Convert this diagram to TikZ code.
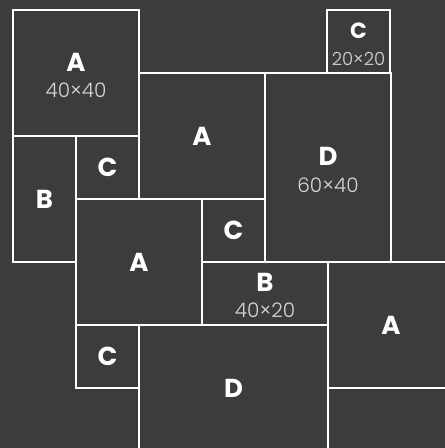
\documentclass[tikz,border=0pt]{standalone}
\usepackage{fontspec}
\setmainfont{Poppins}
\newfontfamily\dimfont{Poppins}[UprightFont=* Light]
\definecolor{bg}{HTML}{3C3C3C}
\definecolor{dimc}{HTML}{D6D6D6}
\tikzset{
  cell/.style={draw=white, line width=2pt, inner sep=0pt, outer sep=0pt},
  letter/.style={text=white, font=\bfseries\fontsize{26}{26}\selectfont, inner sep=0pt},
  smallletter/.style={text=white, font=\bfseries\fontsize{22}{22}\selectfont, inner sep=0pt},
  dims/.style={text=dimc, font=\dimfont\fontsize{20}{20}\selectfont, inner sep=0pt},
  smalldims/.style={text=dimc, font=\dimfont\fontsize{18}{18}\selectfont, inner sep=0pt},
}
\begin{document}
\begin{tikzpicture}[x=1pt,y=-1pt]
\useasboundingbox (0,0) rectangle (445,448);
\fill[bg] (0,0) rectangle (445,448);
\begin{scope}
\clip (0,0) rectangle (445,448);
\node[cell, minimum width=126pt, minimum height=126pt] (A1) at (76,73) {};
\node[cell, minimum width=63pt, minimum height=63pt] (C1) at (358.5,41.5) {};
\node[cell, minimum width=126pt, minimum height=126pt] (A2) at (202,136) {};
\node[cell, minimum width=126pt, minimum height=189pt] (D1) at (328,167.5) {};
\node[cell, minimum width=63pt, minimum height=126pt] (B1) at (44.5,199) {};
\node[cell, minimum width=63pt, minimum height=63pt] (C2) at (107.5,167.5) {};
\node[cell, minimum width=126pt, minimum height=126pt] (A3) at (139,262) {};
\node[cell, minimum width=63pt, minimum height=63pt] (C3) at (233.5,230.5) {};
\node[cell, minimum width=126pt, minimum height=63pt] (B2) at (265,293.5) {};
\node[cell, minimum width=126pt, minimum height=126pt] (A4) at (391,325) {};
\node[cell, minimum width=63pt, minimum height=63pt] (C4) at (107.5,356.5) {};
\node[cell, minimum width=189pt, minimum height=126pt] (D2) at (233.5,388) {};
\node[cell, minimum width=126pt, minimum height=126pt] (E1) at (391,451) {};
\end{scope}
% labels
\node[letter] (lA1) at ([yshift=10.5pt]A1.center) {A};
\node[dims] (dA1) at ([yshift=-17pt]A1.center) {40×40};
\node[smallletter] (lC1) at ([yshift=11pt]C1.center) {C};
\node[smalldims] (dC1) at ([yshift=-17pt]C1.center) {20×20};
\node[letter] (lA2) at (A2.center) {A};
\node[letter] (lD1) at ([yshift=11pt]D1.center) {D};
\node[dims] (dD1) at ([yshift=-17.5pt]D1.center) {60×40};
\node[letter] (lB1) at (B1.center) {B};
\node[letter] (lC2) at (C2.center) {C};
\node[letter] (lA3) at (A3.center) {A};
\node[letter] (lC3) at (C3.center) {C};
\node[letter] (lB2) at ([yshift=11.5pt]B2.center) {B};
\node[dims] (dB2) at ([yshift=-16.5pt]B2.center) {40×20};
\node[letter] (lA4) at (A4.center) {A};
\node[letter] (lC4) at (C4.center) {C};
\node[letter] (lD2) at (D2.center) {D};
\end{tikzpicture}
\end{document}
